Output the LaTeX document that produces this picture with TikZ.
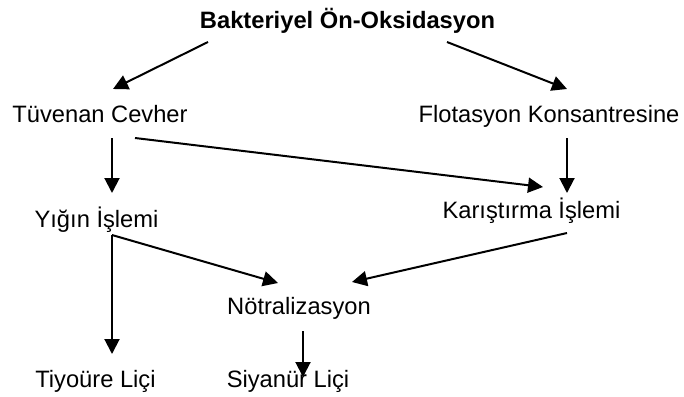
\documentclass[tikz,border=0pt]{standalone}
\usepackage{fontspec}
\setmainfont{Liberation Sans}
\usetikzlibrary{arrows.meta}
\begin{document}
\begin{tikzpicture}[x=0.5pt,y=-0.5pt,
  lbl/.style={anchor=base,inner sep=0pt,font=\fontsize{11.85}{14}\selectfont},
  arr/.style={line width=1pt,-{Triangle[length=7.5pt,width=7.5pt]}},
  ln/.style={line width=1pt}]
\useasboundingbox (0,0) rectangle (684,396);
% nodes
\node[lbl,font=\fontsize{11.85}{14}\selectfont\bfseries] (bak) at (347.5,28) {Bakteriyel Ön-Oksidasyon};
\node[lbl] (tuv) at (100,122) {Tüvenan Cevher};
\node[lbl] (flo) at (549,122) {Flotasyon Konsantresine};
\node[lbl] (yig) at (96.5,227) {Yığın İşlemi};
\node[lbl] (kar) at (531.5,218) {Karıştırma İşlemi};
\node[lbl] (not) at (299,314) {Nötralizasyon};
\node[lbl] (tiy) at (95.5,387) {Tiyoüre Liçi};
\node[lbl] (siy) at (288,387) {Siyanür Liçi};
% connector end points
\coordinate (bakL) at (208,42);
\coordinate (bakR) at (447,42);
\coordinate (tuvT) at (113,89);
\coordinate (floT) at (567,89);
\coordinate (tuvB) at (112,138);
\coordinate (tuvD) at (135,138);
\coordinate (yigT) at (112,193);
\coordinate (karTL) at (543,187);
\coordinate (floB) at (567,138);
\coordinate (karT) at (567,193);
\coordinate (yigB) at (112,235);
\coordinate (tiyT) at (112,354);
\coordinate (notL) at (278,283);
\coordinate (karB) at (567,233);
\coordinate (notR) at (352,282);
\coordinate (notB) at (303,331);
\coordinate (siyT) at (303,377);
% connectors
\draw[arr] (bakL) -- (tuvT);
\draw[arr] (bakR) -- (floT);
\draw[arr] (tuvB) -- (yigT);
\draw[arr] (tuvD) -- (karTL);
\draw[arr] (floB) -- (karT);
\draw[arr] (yigB) -- (tiyT);
\draw[arr] (yigB) -- (notL);
\draw[arr] (karB) -- (notR);
\draw[arr] (notB) -- (siyT);
\end{tikzpicture}
\end{document}
